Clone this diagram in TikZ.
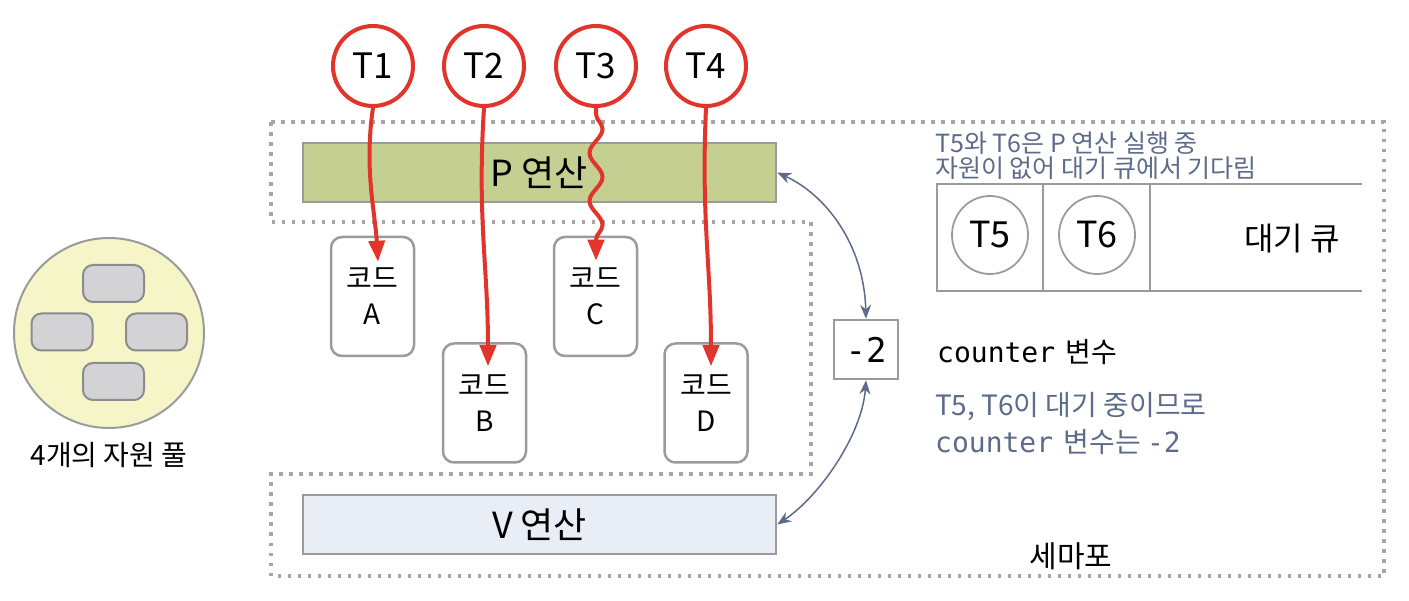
\documentclass[tikz,border=0pt]{standalone}
\usepackage{fontspec}
\setmainfont{Noto Sans CJK KR}
\newfontfamily\mono{DejaVu Sans Mono}
\usetikzlibrary{arrows.meta,decorations.pathmorphing,calc,shapes.geometric}
\definecolor{tred}{HTML}{E3342B}
\definecolor{dotgray}{HTML}{A6A6A6}
\definecolor{linegray}{HTML}{9B9B9B}
\definecolor{pgreen}{HTML}{C5CF91}
\definecolor{vblue}{HTML}{E9EEF6}
\definecolor{bgray}{HTML}{5D6B8A}
\definecolor{poolfill}{HTML}{F6F5C8}
\definecolor{resfill}{HTML}{D3D2D5}
\definecolor{resline}{HTML}{8C8C8C}
\newcommand{\myfs}[2]{\fontsize{#1}{#2}\selectfont}
\begin{document}
\begin{tikzpicture}[x=1pt,y=-1pt,
  region/.style={draw=dotgray,line width=3.5pt,dash pattern=on 3.5pt off 6.5pt},
  tcirc/.style={circle,draw=tred,line width=4pt,fill=white,minimum size=80pt,inner sep=0pt,font=\myfs{35}{40}},
  opbar/.style={draw=linegray,line width=2.5pt,minimum width=473pt,minimum height=59pt,inner sep=0pt,font=\myfs{36}{40}},
  codebox/.style={draw=linegray,line width=2.5pt,rounded corners=11pt,minimum width=83pt,minimum height=119pt,inner sep=0pt,align=center,font=\myfs{28}{36}},
  redarr/.style={draw=tred,line width=4pt,-{Triangle[length=21pt,width=16pt]}},
  bluearr/.style={draw=bgray,line width=1.5pt,{Stealth[length=14pt,width=11pt]}-{Stealth[length=14pt,width=11pt]}},
  qline/.style={draw=linegray,line width=2.5pt},
  qcirc/.style={ellipse,draw=linegray,line width=1.8pt,minimum width=76pt,minimum height=78pt,inner sep=0pt,font=\myfs{36}{40}},
  res/.style={draw=resline,line width=2pt,fill=resfill,rounded corners=10pt,minimum width=61pt,minimum height=37pt,inner sep=0pt},
  note/.style={text=bgray,align=left,inner sep=0pt}
]
\useasboundingbox (0,0) rectangle (1409,601);

% semaphore region
\draw[region] (271,122) -- (1384,122) -- (1384,576) -- (271,576) -- (271,474) -- (811,474) -- (811,222) -- (271,222) -- cycle;

% resource pool
\node[circle,draw=linegray,line width=2pt,fill=poolfill,minimum size=190pt,inner sep=0pt] (pool) at (109,333) {};
\node[res] (r1) at (113.5,283.5) {};
\node[res] (r2) at (62,332) {};
\node[res] (r3) at (156.5,332) {};
\node[res] (r4) at (113.5,381.5) {};
\node[font=\myfs{28}{32},inner sep=0pt] (poollabel) at (109,455) {4개의 자원 풀};

% operations
\node[opbar,fill=pgreen] (P) at (539.5,172.5) {P 연산};
\node[opbar,fill=vblue] (V) at (539.5,524.5) {V 연산};

% code boxes
\node[codebox] (A) at (372.5,296.5) {코드\\A};
\node[codebox] (B) at (484.5,403) {코드\\B};
\node[codebox] (C) at (595.5,296.5) {코드\\C};
\node[codebox] (D) at (706,403) {코드\\D};

% threads
\node[tcirc] (T1) at (373,66) {T1};
\node[tcirc] (T2) at (484,66) {T2};
\node[tcirc] (T3) at (596,66) {T3};
\node[tcirc] (T4) at (706,66) {T4};

\coordinate (tA) at ($(A.north)+(5.5,26)$);
\coordinate (tB) at ($(B.north)+(3.5,24)$);
\coordinate (tC) at ($(C.north)+(0.5,25)$);
\coordinate (tD) at ($(D.north)+(5,24)$);

\draw[redarr] (T1.south) .. controls +(-9,60) and +(-3,-50) .. (tA);
\draw[redarr] (T2.south) .. controls +(-7,110) and +(0,-100) .. (tB);
\draw[redarr,decorate,decoration={snake,amplitude=6.5pt,segment length=48pt,pre length=6pt,post length=20pt}] (T3.south) -- (tC);
\draw[redarr] (T4.south) .. controls +(-5,110) and +(0,-100) .. (tD);

% counter
\node[draw=linegray,line width=2.5pt,minimum width=64pt,minimum height=59pt,inner sep=0pt,font=\mono\myfs{34}{38}] (m2) at (866,349.5) {-2};
\draw[bluearr] (P.east) .. controls +(48,22) and +(-2,-75) .. (m2.north);
\draw[bluearr] (m2.south) .. controls +(-4,55) and +(42,-28) .. (V.east);

\node[anchor=west,inner sep=0pt,font=\myfs{28}{32}] (ctr) at (937,352) {{\mono counter}\hspace{4pt} 변수};
\node[note,anchor=west,font=\myfs{28}{37}] (note2) at (935,424) {T5, T6이 대기 중이므로\\{\mono counter}\hspace{4pt} 변수는 {\mono -2}};

% waiting queue
\node[note,anchor=west,font=\myfs{25}{25}] (note1) at (935,156) {T5와 T6은 P 연산 실행 중\\자원이 없어 대기 큐에서 기다림};
\coordinate (q1) at (1362,184);
\coordinate (q2) at (937,184);
\coordinate (q3) at (937,291);
\coordinate (q4) at (1362,291);
\draw[qline] (q1) -- (q2) -- (q3) -- (q4);
\draw[qline] (1043,184) -- (1043,291);
\draw[qline] (1150,184) -- (1150,291);
\node[qcirc] (T5) at (990,235) {T5};
\node[qcirc] (T6) at (1097,235) {T6};
\node[font=\myfs{32}{36},inner sep=0pt] (wq) at (1292,239) {대기 큐};

\node[font=\myfs{30}{34},inner sep=0pt] (sem) at (1071,556) {세마포};
\end{tikzpicture}
\end{document}
